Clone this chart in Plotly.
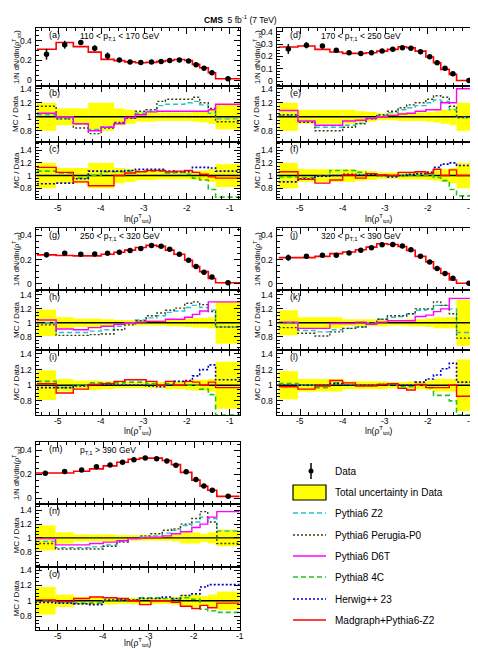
import plotly.graph_objects as go

W, H = 478, 649
FONT = "Liberation Sans, Arial, Helvetica, sans-serif"

# ---------------- data ----------------
edges_std = [-5.5, -5.05, -4.65, -4.3, -4.0, -3.7, -3.45, -3.2, -2.95, -2.7, -2.5, -2.3, -2.05, -1.87, -1.7, -1.5, -1.33, -0.75]
edges_high = [-5.5, -5.05, -4.65, -4.3, -4.0, -3.7, -3.45, -3.2, -2.95, -2.7, -2.5, -2.3, -2.05, -1.87, -1.7, -1.5, -1.0]

# 110 < pT < 170
data_110 = [0.263, 0.36, 0.383, 0.324, 0.246, 0.205, 0.185, 0.178, 0.185, 0.19, 0.2, 0.205, 0.195, 0.155, 0.12, 0.075, 0.013]
err_110 = [0.055, 0.04, 0.012, 0.03, 0.035, 0.015, 0.008, 0.008, 0.008, 0.008, 0.008, 0.008, 0.008, 0.008, 0.008, 0.008, 0.005]
mg_110 = [0.314, 0.383, 0.341, 0.285, 0.211, 0.198, 0.185, 0.177, 0.18, 0.19, 0.2, 0.21, 0.2, 0.16, 0.125, 0.075, 0.013]
band_110 = [0.2, 0.12, 0.12, 0.2, 0.2, 0.12, 0.1, 0.07, 0.07, 0.06, 0.06, 0.06, 0.06, 0.07, 0.08, 0.1, 0.18]
z2_110 = [1.03, 0.97, 0.9, 0.82, 0.86, 0.91, 0.98, 1.05, 1.08, 1.16, 1.18, 1.18, 1.2, 1.22, 1.17, 1.05, 0.97]
p0_110 = [1.15, 0.97, 0.84, 0.76, 0.84, 0.92, 0.98, 1.08, 1.1, 1.22, 1.25, 1.25, 1.25, 1.28, 1.2, 1.12, 0.93]
d6t_110 = [1.05, 1.0, 0.9, 0.8, 0.85, 0.9, 0.99, 1.03, 1.07, 1.08, 1.08, 1.08, 1.08, 1.08, 1.08, 1.1, 1.18]
p8_110 = [1.07, 1.04, 0.96, 1.0, 1.06, 1.06, 1.07, 1.07, 1.07, 1.07, 1.04, 1.05, 1.02, 0.96, 0.93, 0.78, 0.66]
hw_110 = [0.87, 0.88, 0.95, 1.07, 1.07, 1.07, 1.08, 1.1, 1.1, 1.1, 1.07, 1.06, 1.06, 1.13, 1.13, 1.12, 1.07]
mgr_110 = [1.13, 1.05, 0.9, 0.84, 0.84, 1.0, 1.04, 1.06, 1.08, 1.08, 1.06, 1.07, 1.08, 1.05, 1.02, 0.98, 0.96]

# 170 < pT < 250
data_170 = [0.26, 0.29, 0.284, 0.25, 0.23, 0.224, 0.23, 0.243, 0.257, 0.27, 0.265, 0.238, 0.197, 0.149, 0.103, 0.06, 0.005]
err_170 = [0.04, 0.025, 0.008, 0.012, 0.01, 0.01, 0.008, 0.008, 0.008, 0.01, 0.01, 0.008, 0.008, 0.008, 0.006, 0.005, 0.004]
mg_170 = [0.276, 0.284, 0.257, 0.235, 0.224, 0.224, 0.23, 0.243, 0.257, 0.278, 0.27, 0.243, 0.195, 0.149, 0.095, 0.054, 0.005]
band_170 = [0.2, 0.1, 0.1, 0.1, 0.1, 0.08, 0.07, 0.05, 0.05, 0.06, 0.06, 0.06, 0.07, 0.08, 0.1, 0.12, 0.2]
z2_170 = [1.02, 0.93, 0.85, 0.85, 0.88, 0.91, 0.97, 1.02, 1.06, 1.1, 1.13, 1.16, 1.2, 1.24, 1.22, 1.1, 0.99]
p0_170 = [1.03, 0.92, 0.8, 0.8, 0.85, 0.9, 0.97, 1.03, 1.08, 1.13, 1.17, 1.2, 1.25, 1.3, 1.28, 1.15, 0.99]
d6t_170 = [1.09, 0.94, 0.88, 0.88, 0.94, 0.95, 0.98, 1.0, 1.02, 1.04, 1.05, 1.08, 1.1, 1.1, 1.2, 1.2, 1.4]
p8_170 = [0.98, 0.97, 0.99, 1.08, 1.08, 1.05, 1.02, 1.0, 0.99, 1.0, 1.01, 1.0, 1.0, 0.97, 0.92, 0.78, 0.68]
hw_170 = [0.9, 0.95, 0.99, 1.0, 1.02, 1.01, 1.02, 1.0, 0.98, 1.0, 1.02, 1.03, 1.05, 1.13, 1.18, 1.2, 1.16]
mgr_170 = [1.06, 0.94, 0.88, 0.93, 1.01, 0.96, 1.03, 1.01, 1.0, 1.05, 1.05, 1.06, 1.03, 1.1, 1.0, 1.09, 1.0]

# 250 < pT < 320
data_250 = [0.239, 0.252, 0.244, 0.247, 0.252, 0.26, 0.275, 0.291, 0.317, 0.309, 0.286, 0.244, 0.195, 0.143, 0.096, 0.057, 0.01]
err_250 = [0.02, 0.012, 0.008, 0.008, 0.008, 0.008, 0.008, 0.008, 0.01, 0.01, 0.008, 0.008, 0.008, 0.006, 0.005, 0.005, 0.004]
mg_250 = [0.239, 0.234, 0.231, 0.231, 0.244, 0.26, 0.278, 0.3, 0.317, 0.309, 0.278, 0.244, 0.195, 0.143, 0.101, 0.044, 0.01]
band_250 = [0.19, 0.08, 0.06, 0.06, 0.05, 0.04, 0.04, 0.04, 0.04, 0.04, 0.05, 0.05, 0.06, 0.07, 0.07, 0.08, 0.3]
z2_250 = [1.0, 0.86, 0.86, 0.88, 0.9, 0.95, 1.0, 1.04, 1.07, 1.1, 1.15, 1.17, 1.22, 1.25, 1.22, 1.18, 0.94]
p0_250 = [0.97, 0.82, 0.82, 0.83, 0.84, 0.9, 0.97, 1.03, 1.1, 1.14, 1.18, 1.21, 1.28, 1.3, 1.26, 1.16, 0.94]
d6t_250 = [1.04, 0.91, 0.9, 0.93, 0.95, 0.98, 1.0, 1.01, 1.02, 1.02, 1.05, 1.05, 1.08, 1.12, 1.17, 1.3, 1.3]
p8_250 = [1.05, 0.97, 1.0, 1.03, 1.03, 1.03, 1.04, 1.04, 1.02, 1.0, 1.02, 1.0, 1.0, 1.0, 0.95, 0.88, 0.62]
hw_250 = [0.97, 0.97, 0.99, 1.0, 1.01, 1.0, 1.0, 1.0, 0.99, 0.98, 1.0, 1.05, 1.06, 1.12, 1.2, 1.26, 1.07]
mgr_250 = [1.02, 0.9, 0.95, 1.01, 1.02, 1.05, 1.07, 1.07, 1.05, 1.0, 1.05, 1.0, 1.05, 1.04, 1.0, 1.04, 0.97]

# 320 < pT < 390
data_320 = [0.216, 0.227, 0.235, 0.235, 0.254, 0.276, 0.297, 0.322, 0.324, 0.311, 0.281, 0.227, 0.181, 0.127, 0.086, 0.046, 0.005]
err_320 = [0.025, 0.01, 0.008, 0.01, 0.008, 0.008, 0.008, 0.008, 0.008, 0.01, 0.01, 0.008, 0.008, 0.006, 0.005, 0.004, 0.004]
mg_320 = [0.216, 0.216, 0.227, 0.249, 0.262, 0.281, 0.303, 0.33, 0.324, 0.308, 0.276, 0.227, 0.181, 0.127, 0.086, 0.032, 0.005]
band_320 = [0.18, 0.08, 0.08, 0.08, 0.05, 0.05, 0.05, 0.05, 0.04, 0.04, 0.05, 0.05, 0.06, 0.08, 0.08, 0.08, 0.33]
z2_320 = [1.0, 0.89, 0.87, 0.9, 0.92, 0.94, 1.0, 1.05, 1.08, 1.09, 1.13, 1.18, 1.19, 1.25, 1.25, 1.2, 0.86]
p0_320 = [0.93, 0.85, 0.81, 0.87, 0.92, 0.94, 1.0, 1.05, 1.1, 1.1, 1.13, 1.2, 1.2, 1.3, 1.25, 1.13, 0.78]
d6t_320 = [1.01, 0.92, 0.92, 0.99, 0.99, 1.01, 0.98, 1.01, 1.03, 1.03, 1.03, 1.09, 1.11, 1.16, 1.2, 1.35, 1.35]
p8_320 = [1.02, 1.0, 0.97, 1.03, 1.01, 1.0, 1.0, 1.01, 1.0, 0.98, 0.98, 1.0, 0.97, 0.87, 0.87, 0.8, 0.62]
hw_320 = [1.0, 1.0, 1.0, 1.02, 1.0, 1.0, 1.0, 1.01, 1.0, 1.0, 1.0, 1.04, 1.08, 1.13, 1.21, 1.28, 1.04]
mgr_320 = [0.98, 0.95, 0.99, 1.06, 1.03, 0.99, 0.99, 1.01, 1.02, 0.96, 0.94, 1.01, 0.97, 0.97, 0.97, 1.0, 0.86]

# pT > 390
data_390 = [0.208, 0.222, 0.236, 0.262, 0.278, 0.3, 0.322, 0.335, 0.33, 0.31, 0.275, 0.22, 0.155, 0.1, 0.065, 0.014]
err_390 = [0.02, 0.008, 0.008, 0.008, 0.008, 0.008, 0.008, 0.01, 0.01, 0.01, 0.01, 0.008, 0.008, 0.006, 0.005, 0.004]
mg_390 = [0.21, 0.21, 0.225, 0.245, 0.27, 0.3, 0.325, 0.335, 0.335, 0.315, 0.28, 0.215, 0.15, 0.1, 0.065, 0.014]
band_390 = [0.18, 0.08, 0.05, 0.05, 0.05, 0.04, 0.04, 0.04, 0.04, 0.04, 0.05, 0.08, 0.08, 0.06, 0.08, 0.12]
z2_390 = [0.95, 0.86, 0.86, 0.87, 0.9, 0.95, 0.99, 1.01, 1.03, 1.07, 1.11, 1.18, 1.23, 1.3, 1.28, 1.1]
p0_390 = [0.92, 0.84, 0.84, 0.84, 0.88, 0.94, 0.99, 1.03, 1.06, 1.11, 1.13, 1.2, 1.28, 1.38, 1.23, 0.92]
d6t_390 = [0.99, 0.9, 0.9, 0.92, 0.94, 0.96, 0.99, 1.0, 1.01, 1.03, 1.06, 1.09, 1.15, 1.2, 1.3, 1.38]
p8_390 = [1.0, 0.98, 0.97, 0.97, 1.0, 1.01, 1.01, 1.04, 1.04, 1.03, 1.02, 1.04, 1.02, 0.89, 0.87, 0.85]
hw_390 = [0.98, 0.97, 0.96, 0.95, 1.01, 1.01, 1.01, 1.03, 1.03, 1.05, 1.03, 1.07, 1.09, 1.18, 1.21, 1.21]
mgr_390 = [1.01, 0.99, 1.03, 1.05, 1.04, 1.03, 1.0, 0.95, 1.0, 1.0, 0.98, 0.93, 0.9, 0.94, 0.91, 0.97]

x_ticks = [-5, -4, -3, -2, -1]
x_labels = ["-5", "-4", "-3", "-2", "-1"]
ratio_ticks = [0.8, 1.0, 1.2, 1.4]
ratio_labels = ["0.8", "1", "1.2", "1.4"]

legend_names = ["Data", "Total uncertainty in Data", "Pythia6 Z2", "Pythia6 Perugia-P0",
                "Pythia6 D6T", "Pythia8 4C", "Herwig++ 23", "Madgraph+Pythia6-Z2"]

# ---------------- styles ----------------
C_BAND = "#ffff00"
STY = {
    "z2": dict(color="#22c4c4", dash="5px,3px", width=1.4),
    "p0": dict(color="#3d3d14", dash="2px,2px", width=1.4),
    "d6t": dict(color="#ff00ff", dash="solid", width=1.4),
    "p8": dict(color="#22c422", dash="5px,3px", width=1.6),
    "hw": dict(color="#0000cc", dash="2px,2px", width=1.6),
    "mg": dict(color="#ff0000", dash="solid", width=1.4),
}

cols_px = {0: (28, 232), 1: (269, 472)}
rows_px = {0: (20, 78, 134, 191), 1: (220, 282, 342, 407), 2: (434, 496, 559, 622)}
xlab_off = {0: 9, 1: 6, 2: 6}

groups = [
    dict(col=0, row=0, letters=("(a)", "(b)", "(c)"), title="110 < p<sub>T,1</sub> < 170 GeV",
         edges=edges_std, xr=[-5.52, -0.76], data=data_110, err=err_110, mg=mg_110, band=band_110,
         up=[("z2", z2_110), ("p0", p0_110), ("d6t", d6t_110)],
         lo=[("p8", p8_110), ("hw", hw_110), ("mg", mgr_110)],
         ytop=[-0.06, 0.53], ttop=[0, 0.2, 0.4], ymid=[0.64, 1.44], ybot=[0.63, 1.53], xtitle_y=210),
    dict(col=1, row=0, letters=("(d)", "(e)", "(f)"), title="170 < p<sub>T,1</sub> < 250 GeV",
         edges=edges_std, xr=[-5.54, -0.78], data=data_170, err=err_170, mg=mg_170, band=band_170,
         up=[("z2", z2_170), ("p0", p0_170), ("d6t", d6t_170)],
         lo=[("p8", p8_170), ("hw", hw_170), ("mg", mgr_170)],
         ytop=[-0.04, 0.43], ttop=[0, 0.1, 0.2, 0.3, 0.4], ymid=[0.64, 1.44], ybot=[0.63, 1.53], xtitle_y=210),
    dict(col=0, row=1, letters=("(g)", "(h)", "(i)"), title="250 < p<sub>T,1</sub> < 320 GeV",
         edges=edges_std, xr=[-5.52, -0.76], data=data_250, err=err_250, mg=mg_250, band=band_250,
         up=[("z2", z2_250), ("p0", p0_250), ("d6t", d6t_250)],
         lo=[("p8", p8_250), ("hw", hw_250), ("mg", mgr_250)],
         ytop=[-0.05, 0.46], ttop=[0, 0.2, 0.4], ymid=[0.61, 1.47], ybot=[0.62, 1.45], xtitle_y=422),
    dict(col=1, row=1, letters=("(j)", "(k)", "(l)"), title="320 < p<sub>T,1</sub> < 390 GeV",
         edges=edges_std, xr=[-5.54, -0.78], data=data_320, err=err_320, mg=mg_320, band=band_320,
         up=[("z2", z2_320), ("p0", p0_320), ("d6t", d6t_320)],
         lo=[("p8", p8_320), ("hw", hw_320), ("mg", mgr_320)],
         ytop=[-0.05, 0.46], ttop=[0, 0.2, 0.4], ymid=[0.61, 1.47], ybot=[0.62, 1.45], xtitle_y=422),
    dict(col=0, row=2, letters=("(m)", "(n)", "(o)"), title="p<sub>T,1</sub> > 390 GeV",
         edges=edges_high, xr=[-5.48, -0.99], data=data_390, err=err_390, mg=mg_390, band=band_390,
         up=[("z2", z2_390), ("p0", p0_390), ("d6t", d6t_390)],
         lo=[("p8", p8_390), ("hw", hw_390), ("mg", mgr_390)],
         ytop=[-0.05, 0.47], ttop=[0, 0.2, 0.4], ymid=[0.58, 1.49], ybot=[0.62, 1.44], xtitle_y=634),
]


def px_x(x):
    return x / W


def px_y(y):
    return 1 - y / H


def fmt(v):
    return "%g" % v


fig = go.Figure()
layout = dict(width=W, height=H, margin=dict(l=0, r=0, t=0, b=0), autosize=False,
              paper_bgcolor="white", plot_bgcolor="white", showlegend=False, barmode="overlay",
              font=dict(family=FONT, color="black"))
annotations = []
shapes = []

TICKFONT = dict(family=FONT, size=8.5, color="black")
axis_base = dict(showline=True, linecolor="black", linewidth=1, mirror="allticks", ticks="inside",
                 tickcolor="black", tickwidth=1, showgrid=False, zeroline=False,
                 showticklabels=False, fixedrange=True)

k = 0
for g in groups:
    x0, x1 = cols_px[g["col"]]
    ytop_px, ymid_px, ybot_px, yend_px = rows_px[g["row"]]
    frames = [(ytop_px, ymid_px), (ymid_px, ybot_px), (ybot_px, yend_px)]
    edges = g["edges"]
    centers = [(a + b) / 2 for a, b in zip(edges[:-1], edges[1:])]
    widths = [b - a for a, b in zip(edges[:-1], edges[1:])]
    for p in range(3):
        k += 1
        xa = "x" if k == 1 else "x%d" % k
        ya = "y" if k == 1 else "y%d" % k
        xkey = "xaxis" if k == 1 else "xaxis%d" % k
        ykey = "yaxis" if k == 1 else "yaxis%d" % k
        fy0, fy1 = frames[p]
        layout[xkey] = dict(axis_base, domain=[px_x(x0), px_x(x1)], range=g["xr"], anchor=ya,
                            tickmode="array", tickvals=x_ticks, ticklen=6,
                            minor=dict(ticks="inside", ticklen=3, tickcolor="black", tickmode="linear",
                                       tick0=-5, dtick=0.2, showgrid=False))
        if p == 0:
            yr = g["ytop"]
            tv = g["ttop"]
            tt = [fmt(v) for v in tv]
            mdt = 0.05 if len(tv) == 3 else 0.025
        else:
            yr = g["ymid"] if p == 1 else g["ybot"]
            tv = ratio_ticks
            tt = ratio_labels
            mdt = 0.05
        layout[ykey] = dict(axis_base, domain=[px_y(fy1), px_y(fy0)], range=yr, anchor=xa,
                            tickmode="array", tickvals=tv, ticklen=6,
                            minor=dict(ticks="inside", ticklen=3, tickcolor="black", tickmode="linear",
                                       tick0=0, dtick=mdt, showgrid=False))
        # y tick labels (placed through the y scale)
        for v, t in zip(tv, tt):
            annotations.append(dict(x=px_x(x0 - 2), xref="paper", y=v, yref=ya, text=t,
                                    showarrow=False, xanchor="right", yanchor="middle",
                                    font=TICKFONT))
        if p == 2:
            for v, t in zip(x_ticks, x_labels):
                annotations.append(dict(x=v, xref=xa, y=px_y(fy1 + xlab_off[g["row"]]), yref="paper",
                                        text=t, showarrow=False, xanchor="center", yanchor="middle",
                                        font=TICKFONT))
        if p == 0:
            fig.add_trace(go.Scatter(x=edges, y=g["mg"] + [g["mg"][-1]], mode="lines",
                                     line=dict(shape="hv", color=STY["mg"]["color"], width=1.6),
                                     xaxis=xa, yaxis=ya, hoverinfo="skip"))
            fig.add_trace(go.Scatter(x=centers, y=g["data"], mode="markers",
                                     marker=dict(color="black", size=5.5, symbol="circle"),
                                     error_y=dict(type="data", array=g["err"], color="black",
                                                  thickness=1.5, width=0),
                                     xaxis=xa, yaxis=ya, hoverinfo="skip"))
        else:
            band = g["band"]
            fig.add_trace(go.Bar(x=centers, y=[2 * e for e in band], base=[1 - e for e in band],
                                 width=widths, marker=dict(color=C_BAND, line=dict(width=0)),
                                 xaxis=xa, yaxis=ya, hoverinfo="skip"))
            fig.add_trace(go.Scatter(x=g["xr"], y=[1, 1], mode="lines",
                                     line=dict(color="black", width=1.4),
                                     xaxis=xa, yaxis=ya, hoverinfo="skip"))
            series = g["up"] if p == 1 else g["lo"]
            for name, vals in series:
                s = STY[name]
                fig.add_trace(go.Scatter(x=edges, y=vals + [vals[-1]], mode="lines",
                                         line=dict(shape="hv", color=s["color"], width=s["width"],
                                                   dash=s["dash"]),
                                         xaxis=xa, yaxis=ya, hoverinfo="skip"))
        # panel letter
        annotations.append(dict(x=px_x(x0 + 11), y=px_y(fy0 + 7), xref="paper", yref="paper",
                                text=g["letters"][p], showarrow=False, xanchor="left", yanchor="middle",
                                font=dict(family=FONT, size=9, color="black")))
        if p == 0:
            annotations.append(dict(x=px_x(x0 + 42), y=px_y(fy0 + 8), xref="paper", yref="paper",
                                    text=g["title"], showarrow=False, xanchor="left", yanchor="middle",
                                    font=dict(family=FONT, size=8.5, color="black")))
            ytitle = "1/N dN/dln(ρ<sup>T</sup><sub>tot</sub>)"
            fs = 7.5
        else:
            ytitle = "MC / Data"
            fs = 8
        annotations.append(dict(x=px_x(x0 - 20), y=px_y((fy0 + fy1) / 2), xref="paper", yref="paper",
                                text=ytitle, showarrow=False, textangle=-90, xanchor="center",
                                yanchor="middle", font=dict(family=FONT, size=fs, color="black")))
    # x-axis title
    annotations.append(dict(x=px_x((x0 + x1) / 2), y=px_y(g["xtitle_y"]), xref="paper", yref="paper",
                            text="ln(ρ<sup>T</sup><sub>tot</sub>)", showarrow=False,
                            xanchor="center", yanchor="middle",
                            font=dict(family=FONT, size=8.5, color="black")))

# header
annotations.append(dict(x=px_x(232), y=px_y(12), xref="paper", yref="paper",
                        text="<b>CMS</b>  5 fb<sup>-1</sup> (7 TeV)", showarrow=False,
                        xanchor="center", yanchor="middle", font=dict(family=FONT, size=8.5, color="black")))

# legend (drawn manually)
leg_y = [463, 484, 505, 527, 548, 569, 591, 612]
lx0, lx1, ltext = 285, 318, 325
for name, yy in zip(legend_names, leg_y):
    annotations.append(dict(x=px_x(ltext), y=px_y(yy), xref="paper", yref="paper", text=name,
                            showarrow=False, xanchor="left", yanchor="middle",
                            font=dict(family=FONT, size=10, color="black")))
# data symbol
shapes.append(dict(type="line", xref="paper", yref="paper", x0=px_x(303), x1=px_x(303),
                   y0=px_y(455), y1=px_y(471), line=dict(color="black", width=1.5)))
shapes.append(dict(type="circle", xref="paper", yref="paper", x0=px_x(300.5), x1=px_x(305.5),
                   y0=px_y(460.5), y1=px_y(465.5), fillcolor="black", line=dict(color="black", width=0)))
# band symbol
shapes.append(dict(type="rect", xref="paper", yref="paper", x0=px_x(285), x1=px_x(318),
                   y0=px_y(477), y1=px_y(492), fillcolor=C_BAND, line=dict(color="black", width=1.2)))
for key, yy in zip(["z2", "p0", "d6t", "p8", "hw", "mg"], leg_y[2:]):
    s = STY[key]
    shapes.append(dict(type="line", xref="paper", yref="paper", x0=px_x(lx0), x1=px_x(lx1),
                       y0=px_y(yy), y1=px_y(yy), line=dict(color=s["color"], width=s["width"], dash=s["dash"])))

layout["annotations"] = annotations
layout["shapes"] = shapes
fig.update_layout(**layout)
fig.write_html("out.html")
